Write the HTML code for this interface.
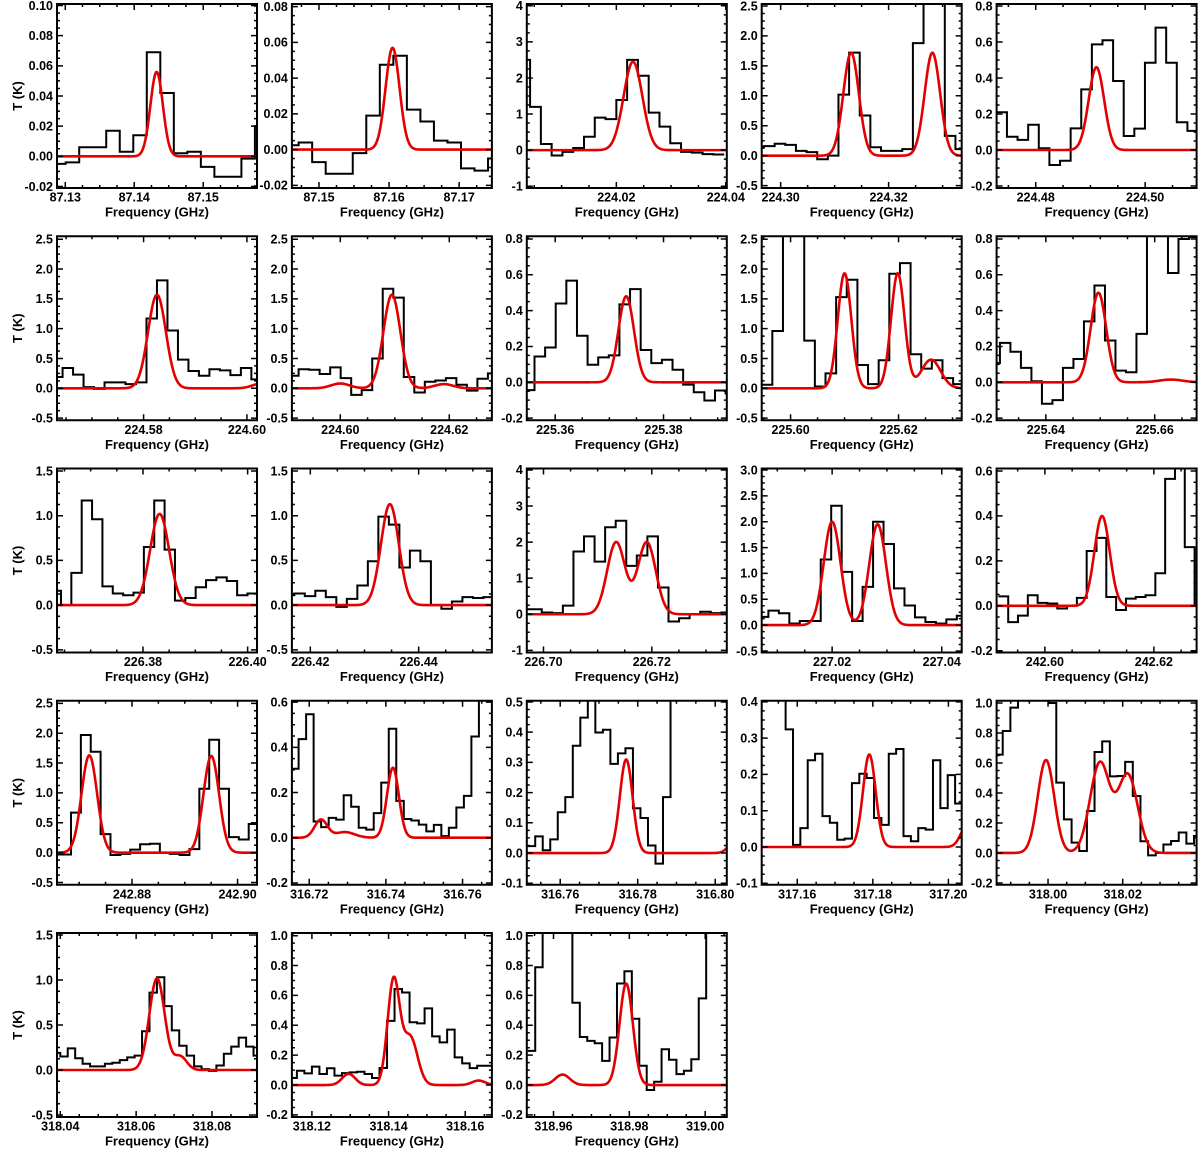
<!DOCTYPE html>
<html><head><meta charset="utf-8"><title>Spectral line fits</title>
<style>
html,body{margin:0;padding:0;background:#fff;}
svg{display:block;font-family:"Liberation Sans",Arial,sans-serif;font-weight:bold;}
</style></head>
<body>
<svg id="fig" width="1200" height="1151" viewBox="0 0 1200 1151" xmlns="http://www.w3.org/2000/svg"></svg>
<script>
const freqMin=[87.1288,87.14614,224.00364,224.29649,224.47285,224.56324,224.59112,225.35476,225.59465,225.63095,226.36357,226.4166,226.69692,227.00715,242.59114,242.8658,316.71548,316.75138,317.15059,317.98622,318.03913,318.11478,318.95296];
const freqMax=[87.1578,87.17467,224.04018,224.33354,224.5094,224.60195,224.62782,225.39168,225.6317,225.6677,226.40179,226.45352,226.73384,227.04364,242.62784,242.90368,316.76766,316.80299,317.20352,318.0398,318.09187,318.16696,319.0057];
const tMin=[-0.021,-0.0215,-1.05,-0.54,-0.211,-0.536,-0.536,-0.212,-0.536,-0.212,-0.53,-0.53,-1.06,-0.53,-0.208,-0.537,-0.208,-0.105,-0.104,-0.212,-0.522,-0.214,-0.214];
const tMax=[0.101,0.0815,4.05,2.533,0.811,2.55,2.55,0.815,2.55,0.815,1.528,1.528,4.04,3.03,0.611,2.543,0.606,0.504,0.403,1.015,1.522,1.018,1.018];
const yTickStep=[0.02,0.02,1,0.5,0.2,0.5,0.5,0.2,0.5,0.2,0.5,0.5,1,0.5,0.2,0.5,0.2,0.1,0.1,0.2,0.5,0.2,0.2];
const yTickDec=[2,2,0,1,1,1,1,1,1,1,1,1,0,1,1,1,1,1,1,1,1,1,1];
const xTickStep=[0.01,0.01,0.02,0.02,0.02,0.02,0.02,0.02,0.02,0.02,0.02,0.02,0.02,0.02,0.02,0.02,0.02,0.02,0.02,0.02,0.02,0.02,0.02];
const chanStart=[87.1281,87.14517,224.00227,224.29495,224.4728,224.56229,224.59042,225.35422,225.59465,225.62963,226.36235,226.4151,226.69578,227.00646,242.59147,242.86471,316.71527,316.75161,317.14912,317.98581,318.03804,318.11412,318.95322];
const chanWidth=[0.00196,0.00193,0.00197,0.00197,0.00194,0.00203,0.00193,0.00196,0.00197,0.00193,0.00198,0.00194,0.00195,0.00191,0.0018,0.00187,0.00196,0.00194,0.00195,0.00205,0.00196,0.00196,0.00196];
const spectra=[
[-0.005,-0.004,0.006,0.006,0.017,0.003,0.014,0.069,0.042,0.002,0.003,-0.007,-0.0135,-0.0135,-0.0015,0.02],
[0.0024,0.004,-0.007,-0.0135,-0.0135,-0.002,0.019,0.0475,0.0525,0.0224,0.0157,0.005,0.004,-0.0105,-0.0118,-0.005],
[2.5,1.2,0.17,-0.15,-0.05,0.06,0.37,0.9,0.86,1.39,2.5,2.06,1.04,0.65,0.19,-0.05,-0.07,-0.11,-0.12],
[0.15,0.16,0.2,0.18,0.08,0.06,-0.06,0.0,1.02,1.72,0.67,0.14,0.08,0.08,0.11,1.88,3.5,3.5,0.33,0.11],
[0.21,0.074,0.056,0.14,0.01,-0.083,-0.06,0.12,0.337,0.587,0.61,0.383,0.078,0.119,0.485,0.68,0.485,0.154,0.106,0.1],
[0.19,0.34,0.23,0.02,-0.01,0.1,0.1,0.07,0.1,1.17,1.81,0.97,0.48,0.29,0.21,0.32,0.3,0.22,0.34,0.15],
[0.21,0.32,0.31,0.24,0.35,0.17,-0.11,-0.03,0.5,1.67,1.52,0.19,-0.07,0.11,0.13,0.17,0.06,-0.04,0.16,0.25],
[-0.044,0.144,0.194,0.44,0.567,0.26,0.098,0.139,0.15,0.435,0.52,0.18,0.107,0.126,0.07,-0.013,-0.056,-0.102,-0.046,-0.063],
[0.06,0.96,3.5,3.5,0.8,0.03,0.25,1.53,1.82,0.39,0.07,0.47,1.92,2.1,0.57,0.33,0.47,0.17,0.07,0.2],
[0.107,0.22,0.17,0.08,0.006,-0.12,-0.1,0.08,0.13,0.34,0.54,0.233,0.065,0.056,0.27,1.0,1.0,0.61,0.8,0.81],
[0.16,0.0,0.36,1.17,0.96,0.21,0.13,0.11,0.14,0.65,1.17,0.62,0.05,0.08,0.2,0.28,0.31,0.27,0.11,0.13],
[0.11,0.13,0.1,0.16,0.09,-0.02,0.07,0.22,0.49,0.99,0.9,0.42,0.61,0.49,0.0,-0.04,0.04,0.09,0.08,0.09],
[0.14,0.14,0.05,0.03,0.24,1.74,2.16,1.46,2.41,2.59,1.34,1.63,2.16,0.74,-0.2,-0.11,0.0,0.07,0.03,0.05],
[0.16,0.28,0.23,0.03,0.08,0.08,1.27,2.31,1.03,0.08,0.74,2.0,1.57,0.71,0.38,0.15,0.06,0.03,0.11,0.18],
[0.042,-0.073,-0.044,0.047,0.013,0.01,-0.012,0.0,0.035,0.244,0.302,0.039,-0.019,0.032,0.039,0.047,0.145,0.565,0.8,0.261,0.007],
[-0.03,-0.03,0.67,1.97,1.69,0.31,-0.04,-0.02,0.05,0.14,0.15,0.0,-0.02,-0.04,0.06,1.07,1.89,1.07,0.26,0.22,0.48],
[0.305,0.436,0.546,0.072,0.047,0.088,0.08,0.188,0.137,0.044,0.036,0.109,0.244,0.482,0.163,0.083,0.076,0.058,0.028,0.057,0.007,0.044,0.134,0.185,0.448,0.8,0.8],
[0.023,0.055,0.009,0.045,0.135,0.185,0.355,0.448,0.6,0.399,0.408,0.295,0.33,0.347,0.148,0.116,0.025,-0.035,0.185,0.6,0.6,0.6,0.6,0.6,0.6,0.6,0.6,0.6],
[0.5,0.5,0.5,0.5,0.324,0.006,0.052,0.239,0.257,0.085,0.067,0.02,0.023,0.176,0.202,0.19,0.08,0.061,0.257,0.27,0.03,0.016,0.052,0.048,0.239,0.107,0.198,0.12],
[0.656,0.813,0.969,1.02,1.2,1.2,1.2,1.0,0.469,0.224,0.069,0.013,0.28,0.673,0.744,0.511,0.513,0.607,0.38,0.078,-0.016,0.0,0.056,0.08,0.136,0.062,0.113],
[0.19,0.15,0.24,0.13,0.07,0.04,0.04,0.07,0.08,0.11,0.14,0.16,0.43,0.86,1.03,0.71,0.44,0.27,0.16,0.04,0.01,-0.01,0.05,0.18,0.26,0.36,0.26,0.16],
[0.047,0.096,0.078,0.123,0.074,0.112,0.063,0.08,0.085,0.089,0.074,0.047,0.114,0.43,0.643,0.62,0.42,0.413,0.513,0.326,0.286,0.371,0.185,0.145,0.113,0.129,0.129,0.063],
[0.229,0.789,1.2,1.2,1.2,1.2,0.551,0.322,0.296,0.28,0.162,0.318,0.68,0.762,0.444,0.129,-0.033,0.022,0.24,0.169,0.073,0.096,0.173,0.58,1.2,1.2,1.2]
];
const lineCenters=[[87.14325],[87.1605],[224.02304],[224.31305,224.32811],[224.49109],[224.58259,224.6028],[224.60947,224.6,224.619],[225.37311],[225.61,225.61986,225.62601],[225.64966,225.663],[226.38318],[226.43469],[226.71341,226.71907],[227.02,227.0283],[242.61049],[242.87192,242.89502],[316.74183,316.72305,316.72931],[316.77703,316.8055],[317.17907,317.205],[317.99945,318.01389,318.02137],[318.0655,318.07164],[318.14131,318.14564,318.12958,318.1635],[318.97917,318.96237]];
const lineAmps=[[0.056],[0.057],[2.45],[1.72,1.72],[0.46],[1.57,0.08],[1.57,0.08,0.07],[0.48],[1.93,1.93,0.48],[0.5,0.015],[1.02],[1.13],[2.0,2.0],[2.0,1.95],[0.4],[1.63,1.62],[0.31,0.08,0.025],[0.31,0.05],[0.255,0.06],[0.62,0.6,0.52],[1.02,0.15],[0.7,0.32,0.075,0.03],[0.68,0.07]];
const lineFwhm=[[0.00213],[0.00235],[0.00406],[0.00338,0.00338],[0.00333],[0.00406,0.004],[0.00367,0.004,0.004],[0.00338],[0.00295,0.00295,0.0042],[0.00336,0.005],[0.00427],[0.00388],[0.0039,0.0039],[0.0036,0.0036],[0.0033],[0.00347,0.00347],[0.00365,0.0039,0.006],[0.00387,0.004],[0.00396,0.004],[0.0052,0.0062,0.0062],[0.00475,0.004],[0.0037,0.0045,0.004,0.004],[0.00413,0.0045]];

const NS='http://www.w3.org/2000/svg';
const svg=document.getElementById('fig');
function mk(tag,attrs,parent){const e=document.createElementNS(NS,tag);for(const k in attrs)e.setAttribute(k,attrs[k]);(parent||svg).appendChild(e);return e;}
const PW=200,PH=184;
function ticksFor(a,b,s){const out=[];let k=Math.ceil(a/s-1e-6);for(;k*s<=b+1e-6;k++)out.push(k*s);return out;}

for(let p=0;p<freqMin.length;p++){
  const r=Math.floor(p/5),c=p%5;
  const L=57+234.9*c,T=4+232.25*r,R=L+PW,B=T+PH;
  const g=mk('g',{});
  
  
  const xs=v=>L+(v-freqMin[p])/(freqMax[p]-freqMin[p])*PW;
  const ys=v=>B-(v-tMin[p])/(tMax[p]-tMin[p])*PH;
  const cp=mk('clipPath',{id:'clip'+p},g);
  mk('rect',{x:L,y:T,width:PW,height:PH},cp);
  const vals=spectra[p];let d='';
  for(let i=0;i<vals.length;i++){
    const x0=xs(chanStart[p]+i*chanWidth[p]),x1=xs(chanStart[p]+(i+1)*chanWidth[p]),y=ys(vals[i]);
    d+=(i===0?'M':'L')+x0.toFixed(2)+','+y.toFixed(2)+'L'+x1.toFixed(2)+','+y.toFixed(2);
  }
  const hp=mk('path',{d:d,fill:'none',stroke:'#000','stroke-width':2,'clip-path':'url(#clip'+p+')'},g);
  
  
  let md='';const N=240;
  for(let i=0;i<=N;i++){
    const f=freqMin[p]+(freqMax[p]-freqMin[p])*i/N;let v=0;
    for(let j=0;j<lineCenters[p].length;j++){const w=lineFwhm[p][j];v+=lineAmps[p][j]*Math.exp(-4*Math.LN2*Math.pow(f-lineCenters[p][j],2)/(w*w));}
    md+=(i===0?'M':'L')+xs(f).toFixed(2)+','+ys(v).toFixed(2);
  }
  const mp=mk('path',{d:md,fill:'none',stroke:'#e30000','stroke-width':2.6,'stroke-linejoin':'round','clip-path':'url(#clip'+p+')'},g);
  
  
  let td='';
  const xt=ticksFor(freqMin[p],freqMax[p],xTickStep[p]);
  ticksFor(freqMin[p],freqMax[p],xTickStep[p]/4).forEach(v=>{const x=xs(v).toFixed(2);const maj=xt.some(t=>Math.abs(t-v)<1e-7);const len=maj?6:3;td+='M'+x+','+B+'v'+(-len)+'M'+x+','+T+'v'+len;});
  const yt=ticksFor(tMin[p],tMax[p],yTickStep[p]);
  ticksFor(tMin[p],tMax[p],yTickStep[p]/4).forEach(v=>{const y=ys(v).toFixed(2);const maj=yt.some(t=>Math.abs(t-v)<1e-7);const len=maj?6:3;td+='M'+L+','+y+'h'+len+'M'+R+','+y+'h'+(-len);});
  const tp=mk('path',{d:td,stroke:'#000','stroke-width':1.5,fill:'none'},g);
  
  
  const fr=mk('rect',{x:L,y:T,width:PW,height:PH,fill:'none',stroke:'#000','stroke-width':2},g);
  
  
  xt.forEach(v=>{
    const t=mk('text',{x:xs(v).toFixed(2),y:B+13.5,'font-size':12.5,'text-anchor':'middle',fill:'#000'},g);
    
    
    t.textContent=v.toFixed(2);
  });
  yt.forEach(v=>{
    const t=mk('text',{x:L-4,y:(ys(v)+4.3).toFixed(2),'font-size':12.5,'text-anchor':'end',fill:'#000'},g);
    
    
    t.textContent=(Math.abs(v)<1e-9?0:v).toFixed(yTickDec[p]);
  });
  const xl=mk('text',{x:L+PW/2,y:B+28.5,'font-size':13,'text-anchor':'middle',fill:'#000'},g);
  
  
  xl.textContent='Frequency (GHz)';
  if(c===0){
    const yl=mk('text',{x:0,y:0,'font-size':13,'text-anchor':'middle',fill:'#000',transform:'translate(22,'+(T+PH/2)+') rotate(-90)'},g);
    
    
    yl.textContent='T (K)';
  }
}
</script>
</body></html>
